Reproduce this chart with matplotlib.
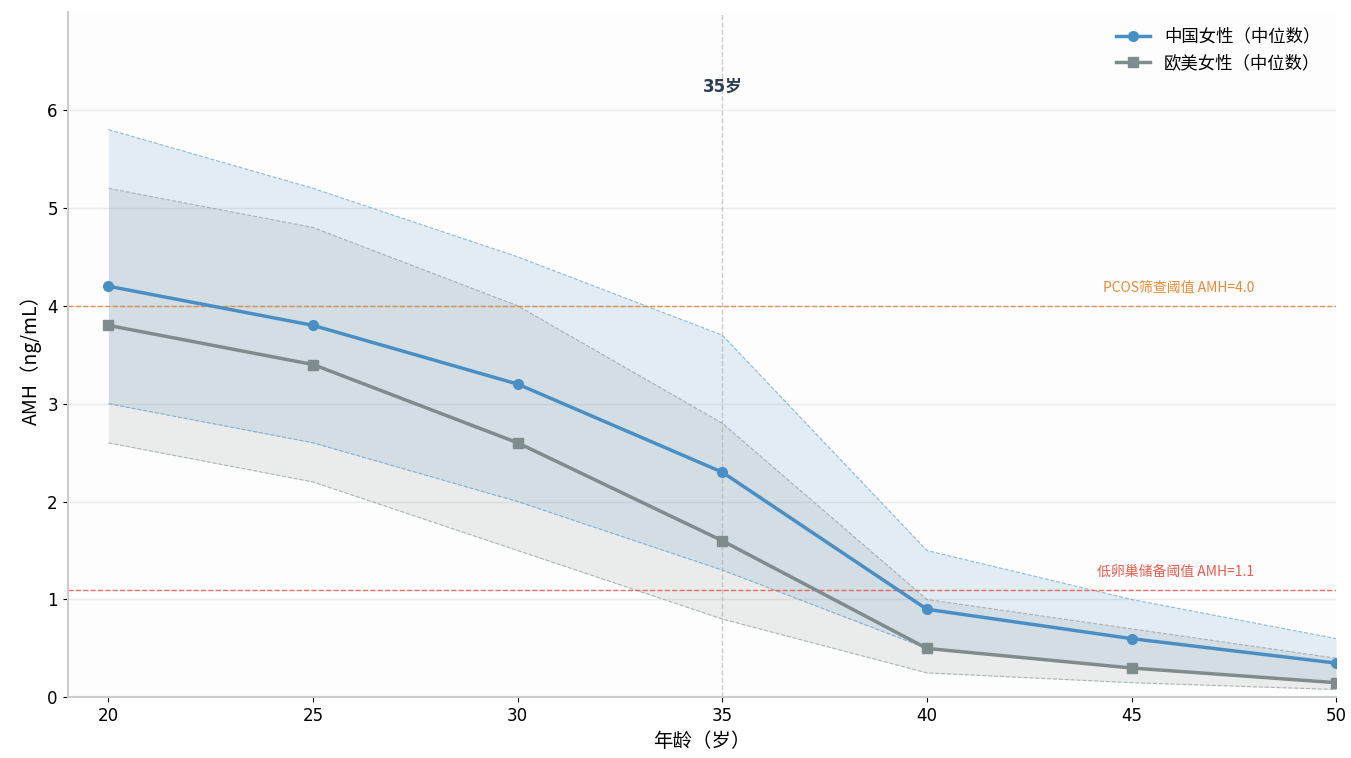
import numpy as np
import matplotlib.pyplot as plt

plt.rcParams['font.family'] = ['DejaVu Sans', 'Noto Sans CJK SC']

ages = [20, 25, 30, 35, 40, 45, 50]
cn_median = [4.2, 3.8, 3.2, 2.3, 0.9, 0.6, 0.35]
cn_upper = [5.8, 5.2, 4.5, 3.7, 1.5, 1.0, 0.6]
cn_lower = [3.0, 2.6, 2.0, 1.3, 0.5, 0.3, 0.15]
west_median = [3.8, 3.4, 2.6, 1.6, 0.5, 0.3, 0.15]
west_upper = [5.2, 4.8, 4.0, 2.8, 1.0, 0.7, 0.4]
west_lower = [2.6, 2.2, 1.5, 0.8, 0.25, 0.15, 0.08]

pcos_thr = 4.0
dor_thr = 1.1

blue = '#4a8fc4'
gray = '#7f8c8d'
cjk = ['Noto Sans CJK SC', 'DejaVu Sans']

fig, ax = plt.subplots(figsize=(13.51, 7.58), dpi=100)
ax.set_facecolor('#fdfdfd')

ax.fill_between(ages, cn_lower, cn_upper, color=blue, alpha=0.15, linewidth=0)
ax.plot(ages, cn_upper, '--', color=blue, lw=0.8, alpha=0.6)
ax.plot(ages, cn_lower, '--', color=blue, lw=0.8, alpha=0.6)
ax.fill_between(ages, west_lower, west_upper, color=gray, alpha=0.15, linewidth=0)
ax.plot(ages, west_upper, '--', color=gray, lw=0.8, alpha=0.6)
ax.plot(ages, west_lower, '--', color=gray, lw=0.8, alpha=0.6)

ax.plot(ages, cn_median, '-o', color=blue, lw=2.5, ms=7, label='中国女性（中位数）', zorder=5)
ax.plot(ages, west_median, '-s', color=gray, lw=2.5, ms=7, label='欧美女性（中位数）', zorder=5)

ax.axhline(pcos_thr, color='#e67e22', ls='--', lw=1, alpha=0.8)
ax.text(48, pcos_thr + 0.11, 'PCOS筛查阈值 AMH=4.0', color='#e67e22', fontsize=10,
        ha='right', va='bottom', alpha=0.9, family=cjk)
ax.axhline(dor_thr, color='#e74c3c', ls='--', lw=1, alpha=0.8)
ax.text(48, dor_thr + 0.11, '低卵巢储备阈值 AMH=1.1', color='#e74c3c', fontsize=10,
        ha='right', va='bottom', alpha=0.9, family=cjk)

ax.axvline(35, color='#aaaaaa', ls='--', lw=1, alpha=0.6)
ax.text(35, 6.24, '35岁', color='#2c3e50', fontsize=12, fontweight='bold',
        ha='center', va='center')

ax.set_xlim(19, 50)
ax.set_ylim(0, 7)
ax.set_xticks(ages)
ax.set_yticks(range(0, 7))
ax.tick_params(labelsize=12)
ax.set_xlabel('年龄（岁）', fontsize=14, family=cjk)
ax.set_ylabel('AMH（ng/mL）', fontsize=14, family=cjk)

ax.grid(axis='y', color='#e6e6e6', lw=1, alpha=0.8)
ax.set_axisbelow(True)
for s in ['top', 'right']:
    ax.spines[s].set_visible(False)
for s in ['left', 'bottom']:
    ax.spines[s].set_color('#cccccc')
    ax.spines[s].set_linewidth(1.5)

leg = ax.legend(loc='upper right', frameon=False,
                prop={'family': cjk, 'size': 12.5})

fig.subplots_adjust(left=0.05, right=0.989, top=0.984, bottom=0.08)
fig.savefig('out.png', dpi=100)
